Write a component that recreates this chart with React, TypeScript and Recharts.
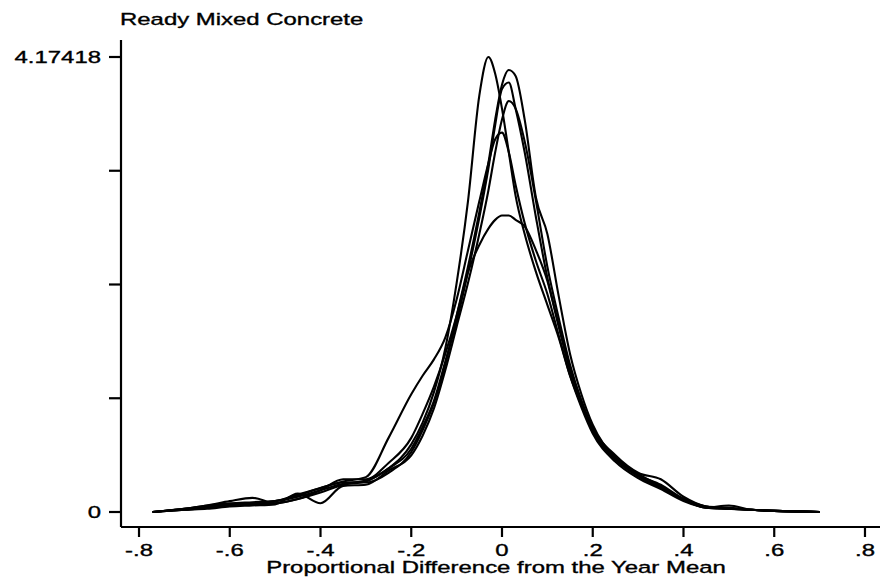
import React from 'react'
import { LineChart, Line, XAxis, YAxis } from 'recharts'

// shared grid of x positions (proportional difference)
const xGrid = [
  -0.77, -0.7, -0.65, -0.6, -0.55, -0.5, -0.45, -0.4, -0.35, -0.3, -0.25, -0.2, -0.175, -0.15,
  -0.125, -0.1, -0.075, -0.05, -0.03, -0.015, 0, 0.015, 0.03, 0.05, 0.075, 0.1, 0.125, 0.15,
  0.175, 0.2, 0.25, 0.3, 0.35, 0.4, 0.45, 0.5, 0.55, 0.6, 0.7,
]

// kernel density estimates, one per year
const yearA = [
  0, 0.03, 0.06, 0.08, 0.09, 0.1, 0.14, 0.2, 0.26, 0.29, 0.4, 0.62, 0.82, 1.1,
  1.5, 2.1, 2.85, 3.82, 4.17418, 4.02, 3.7, 3.3, 2.9, 2.55, 2.2, 1.9, 1.6, 1.25,
  0.98, 0.74, 0.48, 0.33, 0.22, 0.12, 0.05, 0.03, 0.02, 0.01, 0,
]
const yearB = [
  0, 0.02, 0.04, 0.06, 0.08, 0.1, 0.15, 0.22, 0.27, 0.27, 0.36, 0.55, 0.75, 1.0,
  1.35, 1.8, 2.25, 2.75, 3.2, 3.6, 3.92, 4.055, 4.0, 3.6, 2.88, 2.55, 1.98, 1.45,
  1.08, 0.8, 0.5, 0.34, 0.25, 0.12, 0.04, 0.06, 0.02, 0.01, 0,
]
const yearC = [
  0, 0.03, 0.06, 0.1, 0.13, 0.08, 0.12, 0.18, 0.25, 0.28, 0.4, 0.58, 0.78, 1.02,
  1.38, 1.75, 2.2, 2.7, 3.15, 3.55, 3.88, 3.94, 3.7, 3.3, 2.7, 2.15, 1.72, 1.32,
  1.02, 0.77, 0.52, 0.36, 0.3, 0.14, 0.05, 0.03, 0.02, 0.01, 0,
]
const yearD = [
  0, 0.02, 0.03, 0.05, 0.06, 0.07, 0.17, 0.08, 0.24, 0.25, 0.38, 0.52, 0.7, 0.95,
  1.3, 1.7, 2.1, 2.55, 2.95, 3.3, 3.6, 3.77, 3.7, 3.4, 2.85, 2.25, 1.78, 1.35,
  1.02, 0.76, 0.49, 0.33, 0.23, 0.11, 0.04, 0.03, 0.02, 0.01, 0,
]
const yearE = [
  0, 0.03, 0.05, 0.07, 0.08, 0.1, 0.16, 0.22, 0.28, 0.32, 0.68, 1.08, 1.25, 1.4,
  1.6, 1.95, 2.4, 2.85, 3.2, 3.42, 3.48, 3.3, 3.0, 2.65, 2.3, 2.0, 1.62, 1.25,
  0.96, 0.72, 0.46, 0.31, 0.21, 0.1, 0.04, 0.03, 0.02, 0.01, 0,
]
const yearF = [
  0, 0.02, 0.04, 0.06, 0.07, 0.08, 0.12, 0.2, 0.3, 0.3, 0.45, 0.68, 0.9, 1.15,
  1.45, 1.8, 2.2, 2.45, 2.6, 2.68, 2.72, 2.72, 2.68, 2.62, 2.4, 2.12, 1.7, 1.3,
  1.0, 0.75, 0.5, 0.35, 0.24, 0.12, 0.05, 0.04, 0.02, 0.01, 0,
]

const xTicks = [-0.8, -0.6, -0.4, -0.2, 0, 0.2, 0.4, 0.6, 0.8]
const yMax = 4.17418
const yTicks = [0, yMax / 4, yMax / 2, (yMax * 3) / 4, yMax]

const seriesKeys = ['a', 'b', 'c', 'd', 'e', 'f']
const allYears = [yearA, yearB, yearC, yearD, yearE, yearF]

const rows = xGrid.map((x, i) => {
  const row: Record<string, number> = { x }
  seriesKeys.forEach((k, j) => {
    row[k] = allYears[j][i]
  })
  return row
})

const FONT = '"Liberation Sans", Arial, Helvetica, sans-serif'
const SX = 1.45

// Stata style labels: -.8, .2, 0
function fmtX(v: number): string {
  if (Math.abs(v) < 1e-9) return '0'
  const s = Math.abs(v).toFixed(1).replace(/^0/, '')
  return v < 0 ? '-' + s : s
}

const textStyle = { stroke: '#000', strokeWidth: 0.35 }

function XTick(props: any) {
  const { x, payload } = props
  return (
    <g transform={`translate(${x},556) scale(${SX},1)`}>
      <text textAnchor="middle" fontSize={16.5} fontFamily={FONT} fill="#000" style={textStyle}>
        {fmtX(payload.value)}
      </text>
    </g>
  )
}

function YTick(props: any) {
  const { y, payload } = props
  const v = payload.value
  let label = ''
  if (Math.abs(v) < 1e-9) label = '0'
  else if (Math.abs(v - yMax) < 1e-6) label = '4.17418'
  if (!label) return <g />
  return (
    <g transform={`translate(101,${y + 6}) scale(${SX},1)`}>
      <text textAnchor="end" fontSize={16.5} fontFamily={FONT} fill="#000" style={textStyle}>
        {label}
      </text>
    </g>
  )
}

export default function App() {
  return (
    <div
      style={{
        position: 'absolute',
        left: 0,
        top: 0,
        width: 880,
        height: 583,
        background: '#fff',
      }}
    >
      <LineChart
        width={880}
        height={583}
        data={rows}
        margin={{ top: 40, right: 0, bottom: 0, left: 0 }}
      >
        <XAxis
          type="number"
          dataKey="x"
          domain={[-0.8397, 0.8331]}
          ticks={xTicks}
          allowDataOverflow
          height={56}
          tickSize={10}
          axisLine={{ stroke: '#000', strokeWidth: 2.2 }}
          tickLine={{ stroke: '#000', strokeWidth: 2.2 }}
          tick={<XTick />}
          interval={0}
        />
        <YAxis
          type="number"
          domain={[-0.1376, 4.3301]}
          ticks={yTicks}
          allowDataOverflow
          width={121}
          tickSize={12}
          axisLine={{ stroke: '#000', strokeWidth: 2.2 }}
          tickLine={{ stroke: '#000', strokeWidth: 2.2 }}
          tick={<YTick />}
          interval={0}
        />
        {seriesKeys.map((k) => (
          <Line
            key={k}
            type="monotone"
            dataKey={k}
            stroke="#000"
            strokeWidth={2.1}
            dot={false}
            isAnimationActive={false}
          />
        ))}
      </LineChart>
      <svg
        width={880}
        height={583}
        style={{ position: 'absolute', left: 0, top: 0, pointerEvents: 'none' }}
      >
        <text
          transform={`translate(120,25) scale(${SX},1)`}
          fontSize={16.5}
          fontFamily={FONT}
          fill="#000"
          style={textStyle}
        >
          Ready Mixed Concrete
        </text>
        <text
          transform={`translate(496,573) scale(${SX},1)`}
          textAnchor="middle"
          fontSize={16.5}
          fontFamily={FONT}
          fill="#000"
          style={textStyle}
        >
          Proportional Difference from the Year Mean
        </text>
      </svg>
    </div>
  )
}
